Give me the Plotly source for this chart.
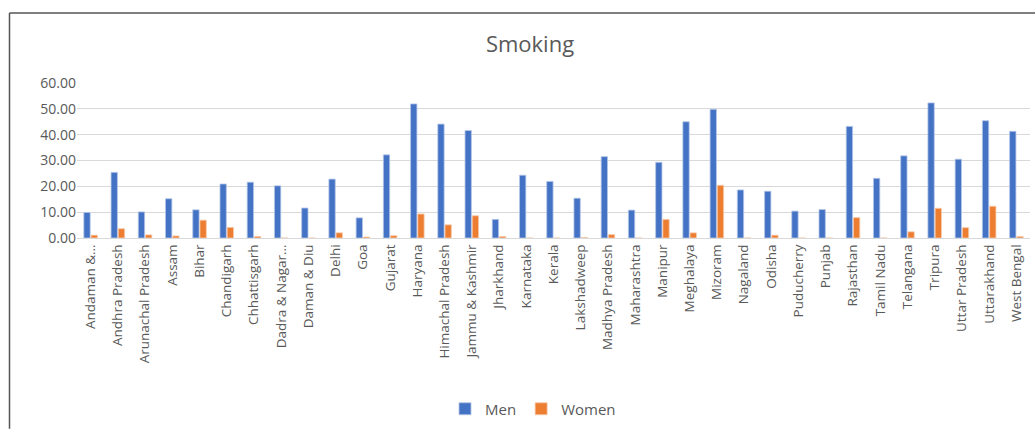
import plotly.graph_objects as go

states = [
    "Andaman &…", "Andhra Pradesh", "Arunachal Pradesh", "Assam", "Bihar",
    "Chandigarh", "Chhattisgarh", "Dadra & Nagar…", "Daman & Diu", "Delhi",
    "Goa", "Gujarat", "Haryana", "Himachal Pradesh", "Jammu & Kashmir",
    "Jharkhand", "Karnataka", "Kerala", "Lakshadweep", "Madhya Pradesh",
    "Maharashtra", "Manipur", "Meghalaya", "Mizoram", "Nagaland", "Odisha",
    "Puducherry", "Punjab", "Rajasthan", "Tamil Nadu", "Telangana", "Tripura",
    "Uttar Pradesh", "Uttarakhand", "West Bengal",
]
men = [
    9.9, 25.4, 10.1, 15.2, 10.9, 20.9, 21.6, 20.2, 11.6, 22.8,
    7.8, 32.2, 51.9, 44.1, 41.6, 7.2, 24.3, 21.9, 15.4, 31.5,
    10.8, 29.3, 45.0, 49.8, 18.6, 18.1, 10.4, 11.0, 43.2, 23.1,
    31.8, 52.3, 30.5, 45.4, 41.3,
]
women = [
    1.1, 3.6, 1.2, 0.8, 6.9, 4.1, 0.6, 0.0, 0.0, 2.0,
    0.4, 0.9, 9.3, 5.1, 8.6, 0.6, 0.0, 0.0, 0.2, 1.3,
    0.0, 7.2, 2.0, 20.4, 0.0, 1.1, 0.0, 0.0, 7.9, 0.0,
    2.4, 11.5, 4.0, 12.3, 0.6,
]
y_ticks = [0, 10, 20, 30, 40, 50, 60]

W, H = 1035, 429
ML, MR, MT, MB = 77, 5, 83, 190
pw, ph = W - ML - MR, H - MT - MB


def px_x(x):
    return (x - ML) / pw


def px_y(y):
    return (H - MB - y) / ph


font = "Open Sans, Liberation Sans, sans-serif"

fig = go.Figure()
fig.add_trace(go.Bar(
    x=states, y=men, name="Men",
    marker=dict(color="#4472C4", line=dict(color="#B4C7E7", width=0.8)),
))
fig.add_trace(go.Bar(
    x=states, y=women, name="Women",
    marker=dict(color="#ED7D31", line=dict(color="#F8CBAD", width=0.8)),
))

fig.update_layout(
    width=W, height=H,
    margin=dict(l=ML, r=MR, t=MT, b=MB),
    paper_bgcolor="white", plot_bgcolor="white",
    barmode="group", bargap=0.47, bargroupgap=0.12,
    font=dict(family=font, color="#595959", size=14),
    title=dict(text="Smoking", x=530 / W, y=1 - 44 / H,
               xanchor="center", yanchor="middle",
               font=dict(family=font, size=22, color="#595959")),
    showlegend=True,
    legend=dict(orientation="h", x=px_x(533), y=px_y(409),
                xanchor="center", yanchor="middle",
                font=dict(family=font, size=15, color="#595959"),
                itemwidth=30, traceorder="normal"),
    xaxis=dict(tickangle=-90, showgrid=False, showline=True,
               linecolor="#D9D9D9", linewidth=1, ticks="",
               tickfont=dict(family=font, size=13.5, color="#595959")),
    yaxis=dict(range=[0, 60], tickvals=y_ticks, tickformat=".2f",
               showgrid=True, gridcolor="#D9D9D9", gridwidth=1,
               zeroline=False, showline=False, ticks="",
               tickfont=dict(family=font, size=14, color="#595959")),
    shapes=[
        dict(type="line", xref="paper", yref="paper",
             x0=px_x(9.5), x1=px_x(9.5), y0=px_y(12.5), y1=px_y(H + 2),
             line=dict(color="#555555", width=1.5)),
        dict(type="line", xref="paper", yref="paper",
             x0=px_x(9.5), x1=px_x(W + 2), y0=px_y(12.5), y1=px_y(12.5),
             line=dict(color="#555555", width=1.5)),
    ],
)

fig.write_html("out.html")
